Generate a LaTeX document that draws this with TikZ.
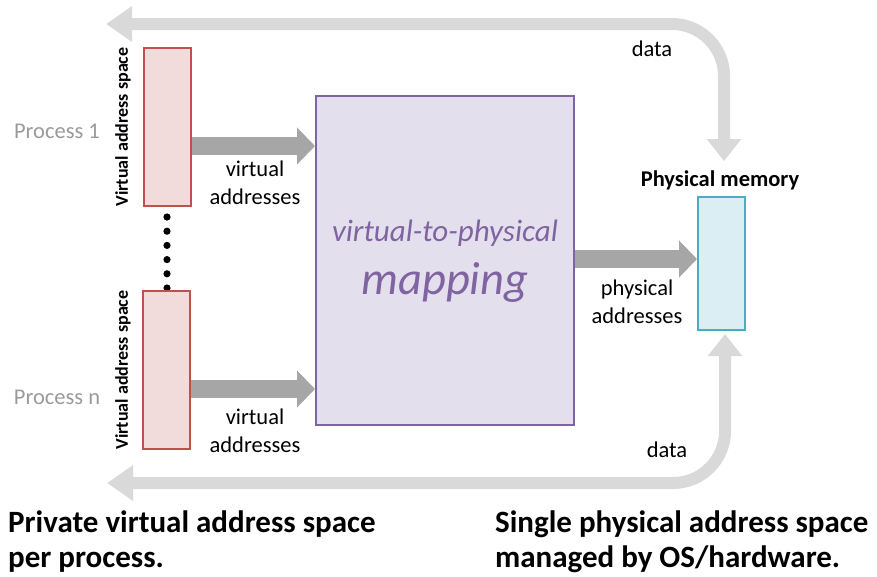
\documentclass[tikz,border=0pt]{standalone}
\usepackage{fontspec}
\setmainfont{Carlito}
\usepackage{xcolor}
\usepackage{tikz}
\usetikzlibrary{arrows.meta}

\definecolor{vasred}{HTML}{C0504D}
\definecolor{vasfill}{HTML}{F2DCDB}
\definecolor{mapline}{HTML}{8064A2}
\definecolor{mapfill}{HTML}{E4DFEC}
\definecolor{memline}{HTML}{4BACC6}
\definecolor{memfill}{HTML}{DAEEF3}
\definecolor{addrgray}{HTML}{A6A6A6}
\definecolor{datagray}{HTML}{D9D9D9}
\definecolor{procgray}{HTML}{9A9A9A}

\begin{document}
\begin{tikzpicture}[x=1pt, y=-1pt,
        vasbox/.style={draw=vasred, fill=vasfill, line width=2pt, minimum width=47pt, minimum height=158pt, inner sep=0pt},
        mapbox/.style={draw=mapline, fill=mapfill, line width=2pt, minimum width=258pt, minimum height=329pt, inner sep=0pt},
        maplbl/.style={inner sep=0pt, align=center, text=mapline, font=\itshape},
        membox/.style={draw=memline, fill=memfill, line width=2pt, minimum width=47pt, minimum height=133pt, inner sep=0pt},
        lbl/.style={inner sep=0pt, align=center, font=\fontsize{22.5}{28}\selectfont},
        vaslbl/.style={inner sep=0pt, rotate=90, font=\bfseries\fontsize{18}{20}\selectfont},
        proclbl/.style={inner sep=0pt, text=procgray, font=\fontsize{22.5}{28}\selectfont},
        note/.style={inner sep=0pt, align=left, anchor=north west, font=\bfseries\fontsize{31}{35}\selectfont},
        addrarrow/.style={-{Triangle[width=36pt,length=18pt]}, line width=18pt, draw=addrgray},
        dataarrow/.style={{Triangle[width=34pt,length=26pt]}-{Triangle[width=33pt,length=22pt]}, line width=12pt, draw=datagray, rounded corners=52pt}
    ]
        \useasboundingbox (0,0) rectangle (877,576);

        % the two processes
        \foreach \i in {0,...,5}
            \fill (167,217+14.2*\i) circle (3.6pt);
        \node[vasbox] (proc1) at (167,126.5) {};
        \node[vasbox] (procn) at (166,370) {};
        \node[vaslbl] (vas1) at (123,127) {Virtual address space};
        \node[vaslbl] (vasn) at (123,370) {Virtual address space};
        \node[proclbl] (p1) at (57,131) {Process 1};
        \node[proclbl] (pn) at (57,397) {Process n};

        % mapping and memory
        \node[mapbox] (map) at (445,260) {};
        \node[maplbl] (maptxt) at ([yshift=-1pt]map.center) {\fontsize{31}{40}\selectfont virtual-to-physical\\[15pt]\fontsize{46.5}{50}\selectfont mapping};
        \node[membox] (mem) at (721.5,263.5) {};
        \node[lbl, font=\bfseries\fontsize{22.5}{28}\selectfont] (memlbl) at (720,180) {Physical memory};

        \draw[addrarrow] ([yshift=-19.5pt]proc1.east) -- ([yshift=-19.5pt]proc1.east -| map.west);
        \draw[addrarrow] ([yshift=-19pt]procn.east) -- ([yshift=-19pt]procn.east -| map.west);
        \draw[addrarrow] ([yshift=1pt]map.east) -- ([yshift=1pt]map.east -| mem.west);

        \node[lbl] (va1) at (255,183) {virtual\\addresses};
        \node[lbl] (van) at (255,431) {virtual\\addresses};
        \node[lbl] (pa) at (637,302) {physical\\addresses};

        % data paths
        \coordinate (topend) at (106,24);
        \coordinate (botend) at (107,483);
        \draw[dataarrow, shorten >=9pt] (topend) -| ([xshift=4pt]memlbl.north);
        \draw[dataarrow, shorten >=3pt] (botend) -| ([xshift=3.5pt]mem.south);
        \node[lbl] (data1) at (652,49) {data};
        \node[lbl] (data2) at (667,450) {data};

        \node[note] (left) at (8,511) {Private virtual address space\\per process.};
        \node[note] (right) at (495,511) {Single physical address space\\managed by OS/hardware.};
    \end{tikzpicture}
\end{document}
